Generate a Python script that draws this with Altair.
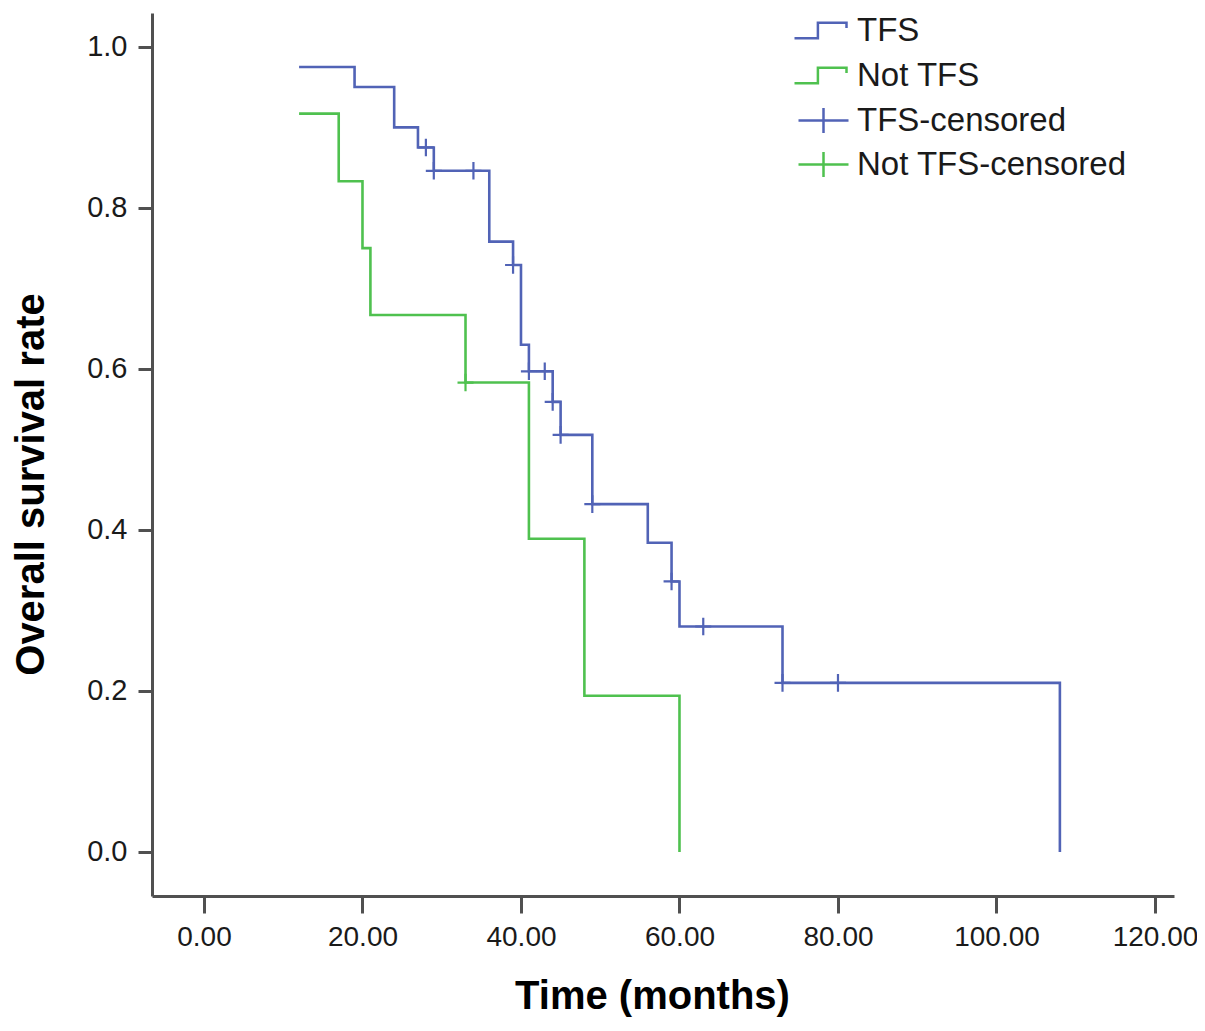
import pandas as pd
import altair as alt

# Kaplan-Meier steps (time in months, survival after the step)
tfs_time = [12, 19, 24, 27, 29, 36, 39, 40, 41, 44, 45, 49, 56, 59, 60, 73, 108]
tfs_surv = [0.975, 0.950, 0.900, 0.875, 0.846, 0.758, 0.729, 0.630, 0.597, 0.559, 0.518, 0.432, 0.384, 0.336, 0.280, 0.210, 0.0]
not_time = [12, 17, 20, 21, 33, 41, 48, 60]
not_surv = [0.917, 0.833, 0.750, 0.667, 0.583, 0.389, 0.194, 0.0]

# censored observations
tfs_cens_time = [28, 29, 34, 39, 41, 43, 44, 45, 49, 59, 63, 73, 80]
tfs_cens_surv = [0.875, 0.846, 0.846, 0.729, 0.597, 0.597, 0.559, 0.518, 0.432, 0.336, 0.280, 0.210, 0.210]
not_cens_time = [33]
not_cens_surv = [0.583]

groups      = ['TFS', 'Not TFS']
cens_groups = ['TFS-censored', 'Not TFS-censored']
x_ticks     = [0, 20, 40, 60, 80, 100, 120]
y_ticks     = [0.0, 0.2, 0.4, 0.6, 0.8, 1.0]

BLUE  = '#5163b6'
GREEN = '#4fc14f'
FONT  = 'Liberation Sans'

steps = pd.concat([
    pd.DataFrame({'Time': tfs_time, 'Survival': tfs_surv, 'Group': groups[0]}),
    pd.DataFrame({'Time': not_time, 'Survival': not_surv, 'Group': groups[1]}),
])
cens = pd.concat([
    pd.DataFrame({'Time': tfs_cens_time, 'Survival': tfs_cens_surv, 'Censor': cens_groups[0]}),
    pd.DataFrame({'Time': not_cens_time, 'Survival': not_cens_surv, 'Censor': cens_groups[1]}),
])

STEP_PATH  = 'M-1,0.3 L-0.1,0.3 L-0.1,-0.3 L1,-0.3 L1,-0.1'
CROSS_LEG  = 'M-1,0 L1,0 M0,-0.5 L0,0.5'
CROSS_MARK = 'M-1,0 L1,0 M0,-1.1 L0,1.1'

x_enc = alt.X('Time:Q',
              scale=alt.Scale(domain=[-6.56, 122.4], nice=False, zero=False),
              axis=alt.Axis(title='Time (months)', values=x_ticks, format='.2f',
                            tickSize=17, labelPadding=10, labelFontSize=28,
                            titleX=500, titleY=112, titleAlign='center', titleBaseline='alphabetic'))
y_enc = alt.Y('Survival:Q',
              scale=alt.Scale(domain=[-0.0547, 1.042], nice=False, zero=False),
              axis=alt.Axis(title='Overall survival rate', values=y_ticks, format='.1f',
                            tickSize=14, labelPadding=11, labelFontSize=29,
                            titleAngle=270, titleX=-109, titleY=471,
                            titleAlign='center', titleBaseline='alphabetic'))

lines = alt.Chart(steps).mark_line(interpolate='step-after', strokeWidth=2.6).encode(
    x=x_enc, y=y_enc,
    color=alt.Color('Group:N', scale=alt.Scale(domain=groups, range=[BLUE, GREEN]),
                    legend=alt.Legend(title=None, orient='none', legendX=641, legendY=-10,
                                      symbolType=STEP_PATH, symbolSize=2704, symbolStrokeWidth=2.5,
                                      symbolFillColor='transparent', labelOffset=9, rowPadding=0,
                                      padding=0)),
)

marks = alt.Chart(cens).mark_point(shape=CROSS_MARK, size=256, strokeWidth=2.2,
                                   filled=False, opacity=1).encode(
    x='Time:Q', y='Survival:Q',
    color=alt.Color('Censor:N', scale=alt.Scale(domain=cens_groups, range=[BLUE, GREEN]),
                    legend=alt.Legend(title=None, orient='none', legendX=645, legendY=81,
                                      symbolType=CROSS_LEG, symbolSize=2500, symbolStrokeWidth=2.5,
                                      symbolFillColor='transparent', labelOffset=7, rowPadding=0,
                                      padding=0)),
)

chart = alt.layer(lines, marks).resolve_scale(color='independent').resolve_legend(color='independent').properties(
    width=1022, height=883,
    autosize=alt.AutoSizeParams(type='none'),
    padding={'left': 144, 'top': 5, 'right': 23, 'bottom': 125},
).configure_view(stroke=None).configure_axis(
    grid=False, domainColor='#505050', domainWidth=3, tickColor='#505050', tickWidth=3,
    labelFont=FONT, labelColor='#1a1a1a',
    titleFont=FONT, titleFontSize=40, titleFontWeight='bold', titleColor='#000000',
).configure_legend(
    labelFont=FONT, labelFontSize=33, labelColor='#1a1a1a', labelLimit=0,
)

chart.save('out.html', embed_options={'renderer': 'svg', 'actions': False})
